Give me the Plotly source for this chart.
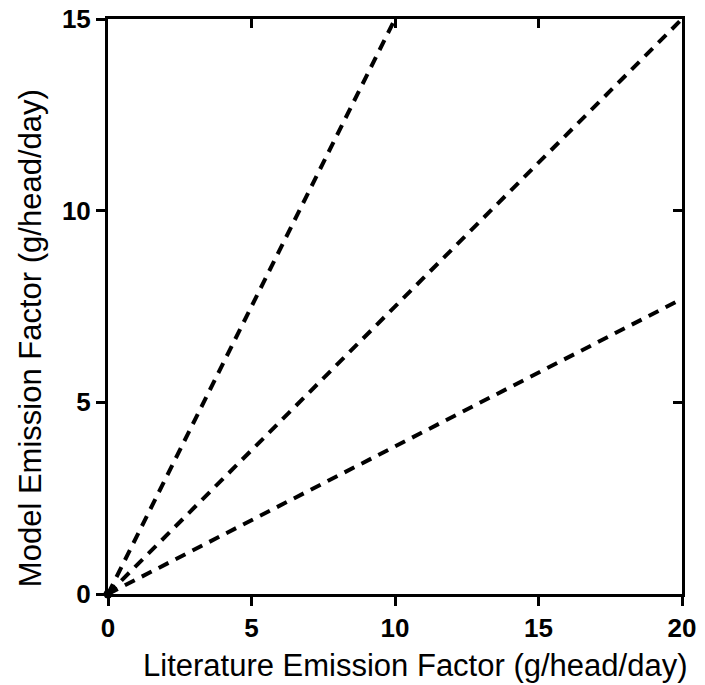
import plotly.graph_objects as go

# Data
line_a_x = [0, 10]
line_a_y = [0, 15]
line_b_x = [0, 20]
line_b_y = [0, 15]
line_c_x = [0, 20]
line_c_y = [0, 7.7]
origin_x = [0]
origin_y = [0]

x_ticks = [0, 5, 10, 15, 20]
y_ticks = [0, 5, 10, 15]
x_title = "Literature Emission Factor (g/head/day)"
y_title = "Model Emission Factor (g/head/day)"

fig = go.Figure()
for xs, ys in [(line_a_x, line_a_y), (line_b_x, line_b_y), (line_c_x, line_c_y)]:
    fig.add_trace(go.Scatter(x=xs, y=ys, mode="lines",
                             line=dict(color="black", width=4, dash="11px,8px"),
                             showlegend=False, hoverinfo="skip"))
fig.add_trace(go.Scatter(x=origin_x, y=origin_y, mode="markers",
                         marker=dict(color="black", size=9), showlegend=False,
                         cliponaxis=False))
# overlay axes for inward ticks on top/right
fig.add_trace(go.Scatter(x=origin_x, y=origin_y, mode="markers", xaxis="x2", yaxis="y2",
                         marker=dict(opacity=0), showlegend=False, hoverinfo="skip"))

tickfont = dict(family="Liberation Sans, Arial, sans-serif", size=26, color="black")
titlefont = dict(family="Liberation Sans, Arial, sans-serif", size=31, color="black")

fig.update_layout(
    width=697, height=677,
    margin=dict(l=100, r=23, t=11, b=91, autoexpand=False),
    plot_bgcolor="white", paper_bgcolor="white",
    xaxis=dict(range=[0, 20], tickvals=x_ticks, ticktext=[f"<b>{v}</b>" for v in x_ticks],
               showgrid=False, zeroline=False, showline=True, linecolor="black", linewidth=3,
               ticks="outside", ticklen=9, tickwidth=3, tickcolor="black", automargin=False,
               tickfont=tickfont, ticklabeloverflow="allow"),
    yaxis=dict(range=[0, 15], tickvals=y_ticks, ticktext=[f"<b>{v}</b>" for v in y_ticks],
               showgrid=False, zeroline=False, showline=True, linecolor="black", linewidth=3,
               ticks="outside", ticklen=9, tickwidth=3, tickcolor="black", automargin=False,
               tickfont=tickfont, ticklabeloverflow="allow"),
    xaxis2=dict(range=[0, 20], overlaying="x", side="top", tickvals=x_ticks, showticklabels=False,
                showgrid=False, zeroline=False, showline=True, linecolor="black", linewidth=3,
                ticks="inside", ticklen=9, tickwidth=3, tickcolor="black", automargin=False),
    yaxis2=dict(range=[0, 15], overlaying="y", side="right", tickvals=y_ticks, showticklabels=False,
                showgrid=False, zeroline=False, showline=True, linecolor="black", linewidth=3,
                ticks="inside", ticklen=9, tickwidth=3, tickcolor="black", automargin=False),
    annotations=[
        dict(text=x_title, xref="paper", yref="paper", x=0.535, y=0, yshift=-71,
             xanchor="center", yanchor="middle", showarrow=False, font=titlefont),
        dict(text=y_title, xref="paper", yref="paper", x=0, y=0.445, xshift=-78,
             xanchor="center", yanchor="middle", textangle=-90, showarrow=False, font=titlefont),
    ],
)

fig.write_html("out.html")
